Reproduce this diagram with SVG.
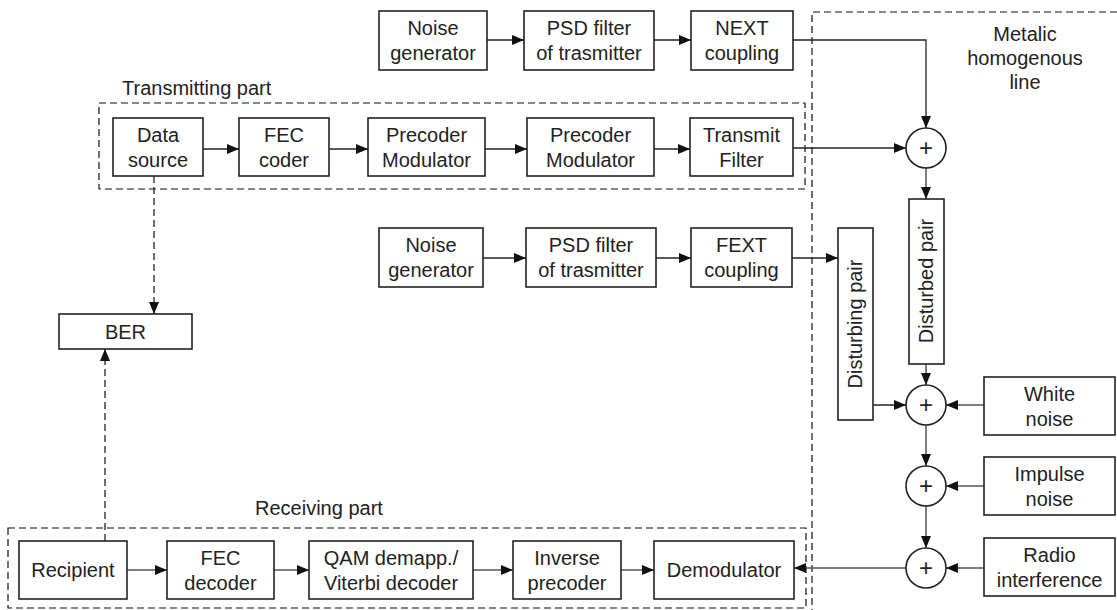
<svg xmlns="http://www.w3.org/2000/svg" width="1117" height="610" viewBox="0 0 1117 610">
<style>
.box{fill:#fff;stroke:#222;stroke-width:1.6}
.t{font-family:"Liberation Sans",Arial,sans-serif;font-size:20px;fill:#222;text-anchor:middle}
.lbl{font-family:"Liberation Sans",Arial,sans-serif;font-size:20px;fill:#222}
.plus{font-family:"Liberation Sans",Arial,sans-serif;font-size:24px;fill:#222;text-anchor:middle}
.ln{fill:none;stroke:#222;stroke-width:1.3}
.lg{fill:none;stroke:#555;stroke-width:1.5}
.dash{fill:none;stroke:#111;stroke-width:1.2;stroke-dasharray:7,4}
.sum{fill:#fff;stroke:#222;stroke-width:1.6}
</style>
<defs>
<marker id="ah" markerUnits="userSpaceOnUse" markerWidth="12" markerHeight="10" refX="12" refY="5" orient="auto">
<path d="M0,0 L12,5 L0,10 z" fill="#111"/>
</marker>
</defs>
<rect width="1117" height="610" fill="#fff"/>

<g id="regions">
<path class="dash" d="M1117,12 H812 V610"/>
<rect class="dash" x="99" y="103" width="706" height="86"/>
<rect class="dash" x="8" y="528" width="798" height="80"/>
<text class="lbl" x="122" y="95">Transmitting part</text>
<text class="lbl" x="255" y="515">Receiving part</text>
<text class="t" x="1025" y="41">Metalic</text>
<text class="t" x="1025" y="65">homogenous</text>
<text class="t" x="1025" y="89">line</text>
</g>

<g id="connectors">
<path class="ln" d="M487,40 H524" marker-end="url(#ah)"/>
<path class="ln" d="M654,40 H691" marker-end="url(#ah)"/>
<path class="ln" d="M793,40 H926 V128" marker-end="url(#ah)"/>
<path class="ln" d="M203,149 H239" marker-end="url(#ah)"/>
<path class="ln" d="M329,149 H368" marker-end="url(#ah)"/>
<path class="ln" d="M485,149 H527" marker-end="url(#ah)"/>
<path class="ln" d="M654,149 H690" marker-end="url(#ah)"/>
<path class="ln" d="M793,148 H906" marker-end="url(#ah)"/>
<path class="lg" d="M926,168 V199" marker-end="url(#ah)"/>
<path class="ln" d="M482,258 H526" marker-end="url(#ah)"/>
<path class="ln" d="M656,258 H691" marker-end="url(#ah)"/>
<path class="ln" d="M792,258 H838" marker-end="url(#ah)"/>
<path class="lg" d="M926,364 V385" marker-end="url(#ah)"/>
<path class="ln" d="M873,405 H906" marker-end="url(#ah)"/>
<path class="lg" d="M984,405 H946" marker-end="url(#ah)"/>
<path class="lg" d="M926,425 V466" marker-end="url(#ah)"/>
<path class="lg" d="M984,486 H946" marker-end="url(#ah)"/>
<path class="lg" d="M926,506 V548" marker-end="url(#ah)"/>
<path class="lg" d="M984,568 H946" marker-end="url(#ah)"/>
<path class="lg" d="M906,568 H794" marker-end="url(#ah)"/>
<path class="lg" d="M127,570 H167" marker-end="url(#ah)"/>
<path class="lg" d="M274,570 H309" marker-end="url(#ah)"/>
<path class="lg" d="M473,570 H513" marker-end="url(#ah)"/>
<path class="lg" d="M621,570 H654" marker-end="url(#ah)"/>
<path class="dash" d="M154,176 V314" marker-end="url(#ah)"/>
<path class="dash" d="M105,541 V349" marker-end="url(#ah)"/>
</g>

<g id="noise1"><rect class="box" x="379" y="11" width="108" height="59"/><text class="t" x="433" y="35">Noise</text><text class="t" x="433" y="60">generator</text></g>
<g id="psd1"><rect class="box" x="524" y="11" width="130" height="59"/><text class="t" x="589" y="35">PSD filter</text><text class="t" x="589" y="60">of trasmitter</text></g>
<g id="next"><rect class="box" x="691" y="11" width="102" height="59"/><text class="t" x="742" y="35">NEXT</text><text class="t" x="742" y="60">coupling</text></g>

<g id="datasource"><rect class="box" x="113" y="118" width="90" height="58"/><text class="t" x="158" y="142">Data</text><text class="t" x="158" y="167">source</text></g>
<g id="feccoder"><rect class="box" x="239" y="118" width="90" height="58"/><text class="t" x="284" y="142">FEC</text><text class="t" x="284" y="167">coder</text></g>
<g id="precoder1"><rect class="box" x="368" y="118" width="117" height="58"/><text class="t" x="426.5" y="142">Precoder</text><text class="t" x="426.5" y="167">Modulator</text></g>
<g id="precoder2"><rect class="box" x="527" y="118" width="127" height="58"/><text class="t" x="590.5" y="142">Precoder</text><text class="t" x="590.5" y="167">Modulator</text></g>
<g id="transmitfilter"><rect class="box" x="690" y="118" width="103" height="58"/><text class="t" x="741.5" y="142">Transmit</text><text class="t" x="741.5" y="167">Filter</text></g>

<g id="noise2"><rect class="box" x="379" y="228" width="104" height="59"/><text class="t" x="431" y="252">Noise</text><text class="t" x="431" y="277">generator</text></g>
<g id="psd2"><rect class="box" x="526" y="228" width="130" height="59"/><text class="t" x="591" y="252">PSD filter</text><text class="t" x="591" y="277">of trasmitter</text></g>
<g id="fext"><rect class="box" x="691" y="228" width="101" height="59"/><text class="t" x="741.5" y="252">FEXT</text><text class="t" x="741.5" y="277">coupling</text></g>

<g id="ber"><rect class="box" x="59" y="314" width="133" height="35"/><text class="t" x="125.5" y="339">BER</text></g>

<g id="sum1"><circle class="sum" cx="926" cy="148" r="20"/><text class="plus" x="926" y="156">+</text></g>
<g id="disturbed"><rect class="box" x="909" y="199" width="35" height="165"/><text class="t" transform="translate(933,281) rotate(-90)">Disturbed pair</text></g>
<g id="disturbing"><rect class="box" x="838" y="228" width="35" height="192"/><text class="t" transform="translate(862,324) rotate(-90)">Disturbing pair</text></g>
<g id="sum2"><circle class="sum" cx="926" cy="405" r="20"/><text class="plus" x="926" y="413">+</text></g>
<g id="white"><rect class="box" x="984" y="377" width="131" height="58"/><text class="t" x="1049.5" y="401">White</text><text class="t" x="1049.5" y="426">noise</text></g>
<g id="sum3"><circle class="sum" cx="926" cy="486" r="20"/><text class="plus" x="926" y="494">+</text></g>
<g id="impulse"><rect class="box" x="984" y="457" width="131" height="58"/><text class="t" x="1049.5" y="481">Impulse</text><text class="t" x="1049.5" y="506">noise</text></g>
<g id="sum4"><circle class="sum" cx="926" cy="568" r="20"/><text class="plus" x="926" y="576">+</text></g>
<g id="radio"><rect class="box" x="984" y="538" width="131" height="58"/><text class="t" x="1049.5" y="562">Radio</text><text class="t" x="1049.5" y="587">interference</text></g>

<g id="recipient"><rect class="box" x="19" y="541" width="108" height="58"/><text class="t" x="73" y="577">Recipient</text></g>
<g id="fecdecoder"><rect class="box" x="167" y="541" width="107" height="58"/><text class="t" x="220.5" y="565">FEC</text><text class="t" x="220.5" y="590">decoder</text></g>
<g id="qam"><rect class="box" x="309" y="541" width="164" height="58"/><text class="t" x="391" y="565">QAM demapp./</text><text class="t" x="391" y="590">Viterbi decoder</text></g>
<g id="inverse"><rect class="box" x="513" y="541" width="108" height="58"/><text class="t" x="567" y="565">Inverse</text><text class="t" x="567" y="590">precoder</text></g>
<g id="demod"><rect class="box" x="654" y="541" width="140" height="58"/><text class="t" x="724" y="577">Demodulator</text></g>
</svg>
